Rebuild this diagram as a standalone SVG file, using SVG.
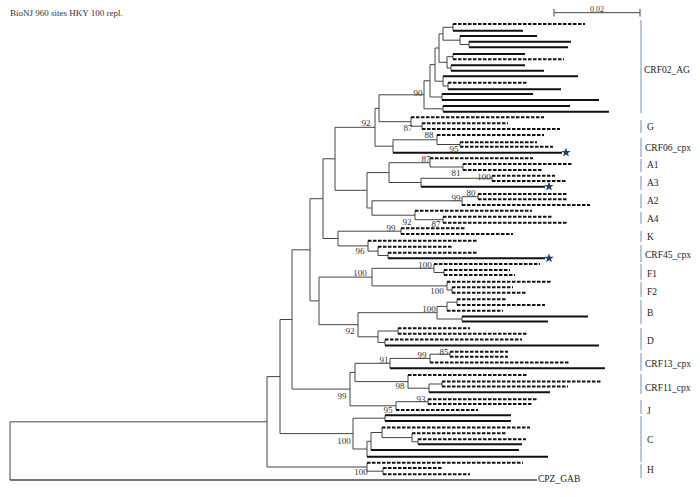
<svg xmlns="http://www.w3.org/2000/svg" width="700" height="497" viewBox="0 0 700 497">
<style>
.int{fill:none;stroke:#444;stroke-width:1}
.ls{fill:none;stroke:#111;stroke-width:2}
.ld{fill:none;stroke:#111;stroke-width:2;stroke-dasharray:3.5 1.5}
.bs{font-family:"Liberation Serif",serif;font-size:9px;fill:#333}
.cl{font-family:"Liberation Serif",serif;font-size:9.5px;fill:#222}
.bar{fill:none;stroke:#8aa3c6;stroke-width:1.2}
.star{fill:#1f3f78}
</style>
<defs>
<path id="star" d="M0,-5 L1.18,-1.62 L4.76,-1.55 L1.9,0.62 L2.94,4.05 L0,2 L-2.94,4.05 L-1.9,0.62 L-4.76,-1.55 L-1.18,-1.62 Z"/>
</defs>
<rect width="700" height="497" fill="#fff"/>
<text x="10" y="16" class="bs" style="font-size:9px">BioNJ 960 sites HKY 100 repl.</text>
<g id="scale">
<path class="int" d="M554,12.7H640M554,9V16.5M640,9V16.5"/>
<text x="597" y="11.5" class="bs" text-anchor="middle" style="font-size:8px">0.02</text>
</g>
<g id="connectors">
<path class="int" d="M10,421.8V480M10,421.8H267
M267,376.6V467M267,376.6H280M267,467H367
M280,319.5V433.6M280,319.5H292M280,433.6H353
M292,249.8V389.1M292,249.8H310M292,389.1H350
M310,198.7V300.9M310,198.7H323M310,300.9H319
M323,158.8V238.5M323,158.8H335M323,238.5H338
M335,127.3V190.3M335,127.3H375M335,190.3H367
M375,108.3V146.2M375,108.3H379M375,146.2H393
M379,94.8V121.7M379,94.8H424M379,121.7H411
M424,80.8V108.8M424,80.8H430M424,108.8H443
M430,64.6V97M430,64.6H435M430,97H442
M435,48V81.2M435,48H439M435,81.2H443
M439,33.8V62.3M439,33.8H443M439,62.3H447
M443,27.3V40.2M443,27.3H453M443,40.2H460
M453,24V30.7
M460,36V44.5M460,44.5H469
M469,41.7V47.3
M447,56.7V68M447,56.7H453M447,68H451
M453,54V59.3M451,65.3V70.7
M443,76.3V86M443,86H448
M448,82.7V89.3M442,94V100M443,106V111.7
M411,117.3V126.2M411,126.2H422M422,123.3V129
M393,139.8V152.7M393,139.8H437
M437,135V144.5M437,144.5H460M460,142.3V146.7
M367,172.6V208M367,172.6H389M367,208H372
M389,162.7V182.5M389,162.7H430M389,182.5H421
M430,158.3V167M430,167H463M463,164V170
M421,178.3V186.7M421,178.3H492M492,175.7V181
M372,200.8V215.2M372,200.8H462M372,215.2H415
M462,196.7V205M462,196.7H478M478,194V199.3
M415,210.7V219.7M415,219.7H443M443,216.7V222.7
M338,231.2V245.9M338,231.2H401M338,245.9H368
M401,228.3V234
M368,240.7V251.1M368,251.1H378
M378,246.7V255.5M378,255.5H388M388,252.7V258.3
M319,277.1V324.7M319,277.1H372M319,324.7H358
M372,268.3V285.9M372,268.3H434M372,285.9H447
M434,264V272.5M434,272.5H444M444,270V275
M447,281.7V290M447,290H452M452,287.3V292.7
M358,312.7V336.8M358,312.7H437M358,336.8H378
M437,306.4V319M437,306.4H447M437,319H462
M447,302.2V310.7M447,302.2H457M457,299.3V305M462,316.5V321.5
M378,331V342.5M378,331H398M378,342.5H385
M398,328.3V333.8M385,339.5V345.5
M350,372.4V405.8M350,372.4H355M350,405.8H396
M355,363.3V381.6M355,363.3H390M355,381.6H408
M390,358.4V368.3M390,358.4H430
M430,354.2V362.5M430,354.2H450M450,351.7V356.7
M408,375V388.2M408,388.2H429
M429,384V392.3M429,384H442M442,381.5V386.5
M396,401.7V410M396,401.7H428M428,399.3V404
M353,418.2V449M353,418.2H385M353,449H367
M385,415.3V421
M367,441.3V456.7M367,441.3H371
M371,432.5V450M371,432.5H382
M382,427.5V437.6M382,437.6H412
M412,433.3V441.8M412,441.8H418M418,439.3V444.3
M367,462.7V471.2M367,471.2H383M383,468V474.3"/>
<path class="int" style="stroke-width:1.3" d="M10,480H537"/>
<path class="ls" d="M453,30.7H523M460,36H537M469,41.7H571M469,47.3H568M453,54H525M451,65.3H525M451,70.7H544M443,76.3H578M448,89.3H561M442,94H533M442,100H599M443,106H570M443,111.7H609
M393,152.7H562M421,186.7H545M388,258.3H545M462,316.5H588M462,321.5H548M385,345.5H599M390,368.3H605M429,392.3H550
M385,415.3H511M385,421H511M418,444.3H522M371,450H519M367,456.7H548"/>
<path class="ld" d="M453,24H585M453,59.3H564M448,82.7H528
M411,117.3H544M422,123.3H508M422,129H560
M437,135H544M460,142.3H537M460,146.7H553
M430,158.3H533M463,164H573M463,170H542M492,175.7H555M492,181H567
M478,194H568M478,199.3H567M462,205H590
M415,210.7H532M443,216.7H553M443,222.7H568
M401,228.3H465M401,234H513
M368,240.7H477M378,246.7H453M388,252.7H478
M434,264H540M444,270H510M444,275H515
M447,281.7H552M452,287.3H513M452,292.7H527
M457,299.3H506M457,305H545M447,310.7H503
M398,328.3H470M398,333.8H527M385,339.5H522
M450,351.7H508M450,356.7H508M430,362.5H570
M408,375H528M442,381.5H602M442,386.5H568
M428,399.3H538M428,404H533M396,410H478
M382,427.5H530M412,433.3H507M418,439.3H526
M367,462.7H523M383,468H443M383,474.3H470"/>
<use href="#star" class="star" x="566" y="152.5"/>
<use href="#star" class="star" x="549" y="186.5"/>
<use href="#star" class="star" x="549" y="258.3"/>
</g>
<g id="bootstrap">
<text class="bs" x="418" y="96" text-anchor="middle">90</text>
<text class="bs" x="366" y="126" text-anchor="middle">92</text>
<text class="bs" x="408" y="131" text-anchor="middle">87</text>
<text class="bs" x="429" y="138" text-anchor="middle">88</text>
<text class="bs" x="454" y="152" text-anchor="middle">95</text>
<text class="bs" x="426" y="162" text-anchor="middle">87</text>
<text class="bs" x="456" y="176" text-anchor="middle">81</text>
<text class="bs" x="484" y="180" text-anchor="middle">100</text>
<text class="bs" x="471" y="196" text-anchor="middle">80</text>
<text class="bs" x="456" y="201" text-anchor="middle">99</text>
<text class="bs" x="407" y="225" text-anchor="middle">92</text>
<text class="bs" x="436" y="227" text-anchor="middle">87</text>
<text class="bs" x="391" y="231" text-anchor="middle">99</text>
<text class="bs" x="360" y="254" text-anchor="middle">96</text>
<text class="bs" x="425" y="268" text-anchor="middle">100</text>
<text class="bs" x="360" y="276" text-anchor="middle">100</text>
<text class="bs" x="437" y="294" text-anchor="middle">100</text>
<text class="bs" x="429" y="312" text-anchor="middle">100</text>
<text class="bs" x="350" y="334" text-anchor="middle">92</text>
<text class="bs" x="444" y="355" text-anchor="middle">85</text>
<text class="bs" x="422" y="358" text-anchor="middle">99</text>
<text class="bs" x="384" y="363" text-anchor="middle">91</text>
<text class="bs" x="400" y="389" text-anchor="middle">98</text>
<text class="bs" x="342" y="399" text-anchor="middle">99</text>
<text class="bs" x="421" y="402" text-anchor="middle">93</text>
<text class="bs" x="388" y="413" text-anchor="middle">95</text>
<text class="bs" x="344" y="444" text-anchor="middle">100</text>
<text class="bs" x="361" y="475" text-anchor="middle">100</text>
</g>
<g id="clades">
<path class="bar" d="M641,20V113M641,120V133M641,138V157M641,159V172M641,176V190M641,194V208M641,212V224M641,231V242M641,245V262M641,264V280M641,282V297M641,300V324M641,328V350M641,353V371M641,374V394M641,400V414M641,416V462M641,464V478"/>
<text class="cl" x="644" y="73">CRF02_AG</text>
<text class="cl" x="647" y="130">G</text>
<text class="cl" x="645" y="151">CRF06_cpx</text>
<text class="cl" x="647" y="168">A1</text>
<text class="cl" x="647" y="186">A3</text>
<text class="cl" x="647" y="204">A2</text>
<text class="cl" x="647" y="222">A4</text>
<text class="cl" x="647" y="240">K</text>
<text class="cl" x="645" y="258">CRF45_cpx</text>
<text class="cl" x="647" y="277">F1</text>
<text class="cl" x="647" y="295">F2</text>
<text class="cl" x="647" y="316">B</text>
<text class="cl" x="647" y="344">D</text>
<text class="cl" x="645" y="367">CRF13_cpx</text>
<text class="cl" x="645" y="391">CRF11_cpx</text>
<text class="cl" x="647" y="414">J</text>
<text class="cl" x="647" y="443">C</text>
<text class="cl" x="647" y="473">H</text>
<text class="cl" x="538" y="482">CPZ_GAB</text>
</g>
</svg>
